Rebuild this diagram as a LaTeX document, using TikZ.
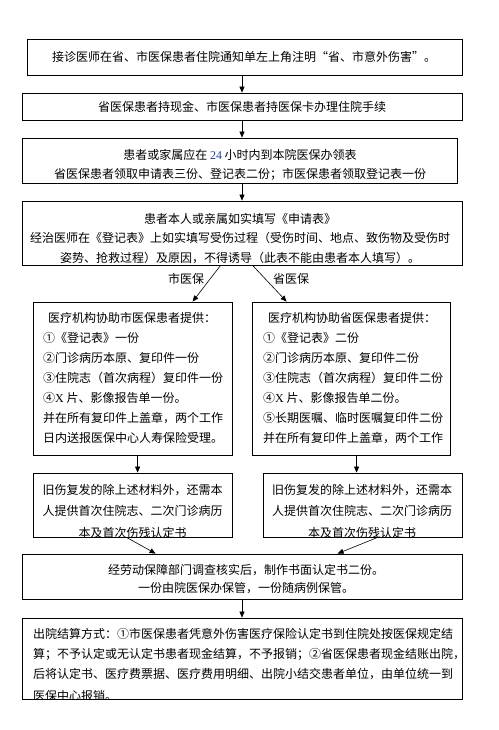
\documentclass[tikz,border=0pt]{standalone}
\usepackage{fontspec}
\usetikzlibrary{arrows.meta,calc}
\newfontfamily\cjk{Noto Sans CJK SC}
\newfontfamily\latn{Liberation Serif}
\definecolor{numblue}{RGB}{40,70,160}
\tikzset{
  box/.style={draw, line width=0.8pt, inner sep=0pt, minimum width=#1},
  txt/.style={inner sep=0pt, font=\cjk\fontsize{12}{20}\selectfont},
  arr/.style={line width=0.6pt, -{Triangle[length=6pt,width=5pt]}},
  lbl/.style={inner sep=0pt, font=\cjk\fontsize{12}{14}\selectfont}
}
\newcommand{\clipbox}[1]{\clip (#1.north west) rectangle (#1.south east);}
\begin{document}
\begin{tikzpicture}[x=1pt,y=-1pt]
\useasboundingbox[fill=white] (0,0) rectangle (498,730);
% boxes
\node[box=435pt, minimum height=36pt] (b1) at (244.5,57) {};
\node[box=440pt, minimum height=27pt] (b2) at (242,106.5) {};
\node[box=435pt, minimum height=45pt] (b3) at (239.5,160.5) {};
\node[box=440pt, minimum height=64pt] (b4) at (242,233) {};
\node[box=199pt, minimum height=153pt] (b5) at (132.5,378.5) {};
\node[box=198pt, minimum height=153pt] (b6) at (351,378.5) {};
\node[box=199pt, minimum height=64pt] (b7) at (132.5,505) {};
\node[box=199pt, minimum height=64pt] (b8) at (362.5,505) {};
\node[box=440pt, minimum height=45pt] (b9) at (242,576.5) {};
\node[box=440pt, minimum height=81pt] (b10) at (242,658.5) {};
% texts
\node[txt] (t1) at (244,57) {接诊医师在省、市医保患者住院通知单左上角注明“省、市意外伤害”。};
\node[txt] (t2) at (242,106.5) {省医保患者持现金、市医保患者持医保卡办理住院手续};
\begin{scope}\clipbox{b3}
\node[txt, align=center, anchor=north] (t3) at (240,149.5) {患者或家属应在 {\latn\color{numblue}24} 小时内到本院医保办领表\\[-1pt]省医保患者领取申请表三份、登记表二份；市医保患者领取登记表一份};
\end{scope}
\begin{scope}\clipbox{b4}
\node[txt, align=center, anchor=north] (t4) at (240,213) {患者本人或亲属如实填写《申请表》\\[-0.5pt]经治医师在《登记表》上如实填写受伤过程（受伤时间、地点、致伤物及受伤时\\[-0.5pt]姿势、抢救过程）及原因，不得诱导（此表不能由患者本人填写）。};
\end{scope}
\begin{scope}\clipbox{b5}
\node[txt, align=left, anchor=north west] (t5) at (43,312.5) {\hspace{5pt}医疗机构协助市医保患者提供：\\①《登记表》一份\\②门诊病历本原、复印件一份\\③住院志（首次病程）复印件一份\\④{\latn X} 片、影像报告单一份。\\并在所有复印件上盖章，两个工作\\日内送报医保中心人寿保险受理。};
\end{scope}
\begin{scope}\clipbox{b6}
\node[txt, align=left, anchor=north west] (t6) at (263,312.5) {\hspace{5pt}医疗机构协助省医保患者提供：\\①《登记表》二份\\②门诊病历本原、复印件二份\\③住院志（首次病程）复印件二份\\④{\latn X} 片、影像报告单二份。\\⑤长期医嘱、临时医嘱复印件二份\\并在所有复印件上盖章，两个工作};
\end{scope}
\begin{scope}\clipbox{b7}
\node[txt, align=center, anchor=north] (t7) at (132.5,484) {旧伤复发的除上述材料外，还需本\\[1pt]人提供首次住院志、二次门诊病历\\[2pt]本及首次伤残认定书};
\end{scope}
\begin{scope}\clipbox{b8}
\node[txt, align=center, anchor=north] (t8) at (362,484) {旧伤复发的除上述材料外，还需本\\[1pt]人提供首次住院志、二次门诊病历\\[2pt]本及首次伤残认定书};
\end{scope}
\node[txt, align=center, anchor=north] (t9) at (246,564.5) {经劳动保障部门调查核实后，制作书面认定书二份。\\[-2pt]一份由院医保办保管，一份随病例保管。};
\begin{scope}\clipbox{b10}
\node[txt, align=left, anchor=north west] (t10) at (33,628) {出院结算方式：①市医保患者凭意外伤害医疗保险认定书到住院处按医保规定结\\算；不予认定或无认定书患者现金结算，不予报销；②省医保患者现金结账出院，\\后将认定书、医疗费票据、医疗费用明细、出院小结交患者单位，由单位统一到\\[2pt]医保中心报销。};
\end{scope}
% connectors
\draw[arr] (b2.north |- b1.south) -- (b2.north);
\draw[arr] (b2.south) -- (b2.south |- b3.north);
\draw[arr] (b2.south |- b3.south) -- (b2.south |- b4.north);
\draw[arr] ([xshift=199pt]b4.south west) -- ([xshift=160pt]b5.north west);
\draw[arr] ([xshift=231pt]b4.south west) -- ([xshift=35pt]b6.north west);
\draw[arr] ([xshift=105pt]b5.south west) -- ([xshift=105pt]b7.north west);
\draw[arr] ([xshift=105pt]b6.south west) -- ([xshift=94pt]b8.north west);
\draw[arr] ([xshift=94pt]b7.south west) -- ([xshift=134pt]b9.north west);
\draw[arr] ([xshift=115pt]b8.south west) -- ([xshift=316pt]b9.north west);
\draw[arr] (b9.south) -- (b10.north);
% labels
\node[lbl] (l1) at (186,279) {市医保};
\node[lbl] (l2) at (291,279) {省医保};
\end{tikzpicture}
\end{document}
